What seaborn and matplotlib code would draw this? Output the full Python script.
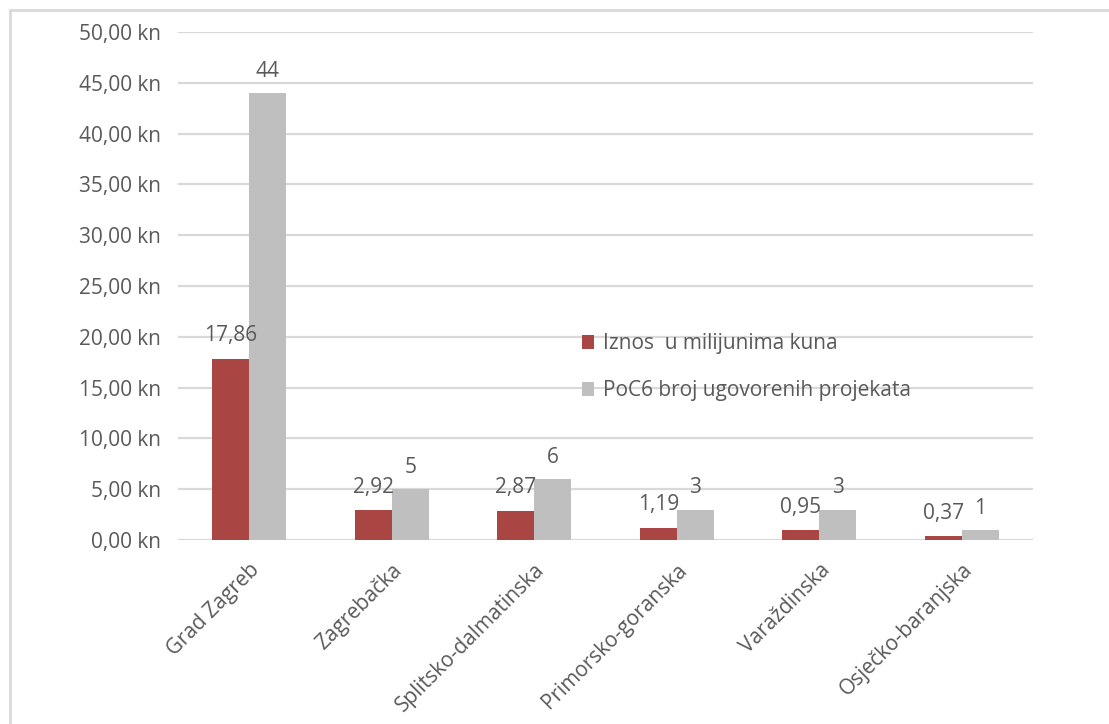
import matplotlib
matplotlib.use("Agg")
import matplotlib.pyplot as plt
import seaborn as sns
import pandas as pd
from matplotlib.patches import Rectangle
from matplotlib.ticker import FuncFormatter

regions = ["Grad Zagreb", "Zagrebačka", "Splitsko-dalmatinska",
           "Primorsko-goranska", "Varaždinska", "Osječko-baranjska"]
iznos = [17.86, 2.92, 2.87, 1.19, 0.95, 0.37]
broj = [44, 5, 6, 3, 3, 1]
series_names = ["Iznos  u milijunima kuna", "PoC6 broj ugovorenih projekata"]
yticks = [0, 5, 10, 15, 20, 25, 30, 35, 40, 45, 50]

df = pd.DataFrame({
    "region": regions * 2,
    "value": iznos + broj,
    "series": [series_names[0]] * len(regions) + [series_names[1]] * len(regions),
})

sns.set_theme(style="white")
plt.rcParams["font.family"] = ["Open Sans", "DejaVu Sans"]
TXT = "#595959"

fig = plt.figure(figsize=(11.09, 7.24), dpi=100)
ax = fig.add_axes([0.1605, 0.2541, 0.7710, 0.7017])

sns.barplot(data=df, x="region", y="value", hue="series",
            palette=["#A94643", "#BFBFBF"], width=0.52, gap=0,
            saturation=1, ax=ax, zorder=3, edgecolor="none", linewidth=0)

ax.set_ylim(0, 50)
ax.set_xlim(-0.5, len(regions) - 0.5)
ax.set_yticks(yticks)
ax.yaxis.set_major_formatter(FuncFormatter(lambda v, p: f"{v:.2f}".replace(".", ",") + " kn"))
ax.grid(axis="y", color="#D9D9D9", linewidth=1.6, zorder=0)
ax.grid(axis="x", visible=False)
for s in ax.spines.values():
    s.set_visible(False)
ax.tick_params(axis="y", length=0, labelsize=15, colors=TXT, pad=12)
ax.tick_params(axis="x", length=0, labelsize=15, colors=TXT, pad=14)
ax.set_xlabel("")
ax.set_ylabel("")
for lbl in ax.get_xticklabels():
    lbl.set_rotation(45)
    lbl.set_ha("right")
    lbl.set_rotation_mode("anchor")

containers = ax.containers
ax.bar_label(containers[0], labels=[f"{v:.2f}".replace(".", ",") for v in iznos],
             padding=9, fontsize=15, color=TXT)
ax.bar_label(containers[1], labels=[str(v) for v in broj],
             padding=8, fontsize=15, color=TXT)

handles, labels = ax.get_legend_handles_labels()
ax.legend(handles, labels, loc="center left", bbox_to_anchor=(0.45, 0.34),
          frameon=False, fontsize=15, labelcolor=TXT, handlelength=0.6,
          handleheight=0.6, handletextpad=0.45, labelspacing=1.25)

fig.patches.append(Rectangle((10 / 1109, -0.1), 1.2, 1 - 10 / 724 + 0.1,
                             transform=fig.transFigure, fill=False,
                             edgecolor="#D9D9D9", linewidth=2))

fig.savefig("out.png", dpi=100)
